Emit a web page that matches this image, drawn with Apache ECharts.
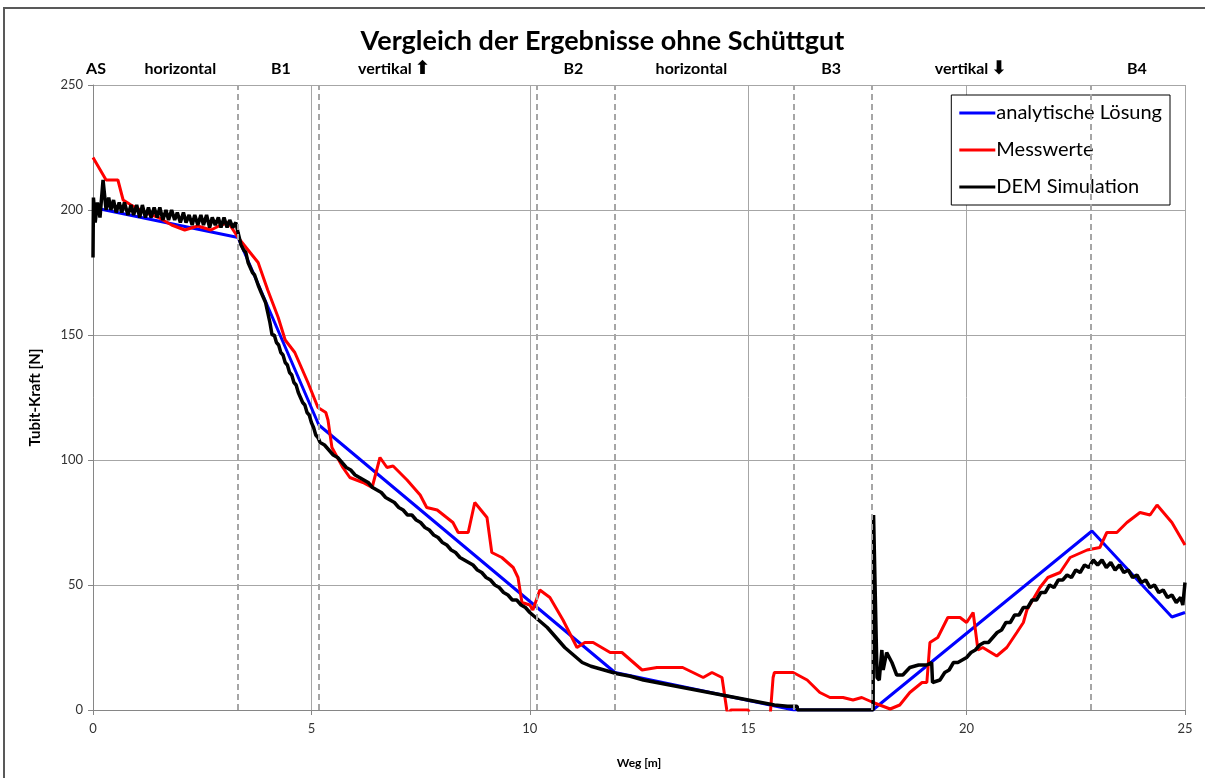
<!DOCTYPE html>
<html>
<head>
<meta charset="utf-8">
<script src="https://cdn.jsdelivr.net/npm/echarts@6/dist/echarts.min.js"></script>
<style>html,body{margin:0;padding:0;background:#fff}#chart{width:1205px;height:778px}</style>
</head>
<body>
<div id="chart"></div>
<script>
// Werte
const analytisch = [[0,201],[3.32,189],[5.17,114],[11.95,15],[16.05,0],[17.85,0],[22.87,71.6],[24.7,37.2],[25,39]];

const messwerte = [[0,221],[0.3,212],[0.57,212],[0.69,204],[0.87,202],[1.2,199],[1.5,197],[1.8,194],[1.95,193],[2.1,192],[2.4,193.6],[2.7,192],[2.93,194],[3.1,195],[3.32,189],[3.55,184],[3.78,179],[4.0,168],[4.24,157],[4.4,148],[4.62,143],[4.92,131],[5.15,121],[5.33,119],[5.38,116],[5.47,105],[5.72,97],[5.88,93],[6.18,91],[6.39,89],[6.57,101],[6.73,97],[6.87,97.6],[7.19,92],[7.49,86],[7.64,81],[7.88,80],[8.24,75],[8.36,71],[8.59,71],[8.74,83],[9.02,77],[9.13,63],[9.36,61],[9.62,57],[9.73,53],[9.82,43],[10.0,42],[10.07,40],[10.23,48],[10.46,45],[10.76,36],[11.08,25],[11.26,27],[11.45,27],[11.84,23],[12.11,23],[12.57,16],[12.91,17],[13.37,17],[13.5,17],[13.97,13],[14.17,15],[14.4,13],[14.51,0],[14.55,-3],[14.6,0],[15.0,0],[15.05,-3],[15.5,-3],[15.57,13],[15.6,15],[16.03,15],[16.35,12],[16.64,7],[16.87,5],[17.17,5],[17.4,4],[17.6,5],[17.86,3],[18.25,0.4],[18.47,2],[18.7,7],[18.98,11],[19.09,11],[19.16,27],[19.34,29],[19.57,37],[19.85,37],[20.0,35],[20.15,39],[20.26,24],[20.37,25],[20.69,21.6],[20.92,25],[21.15,31],[21.3,35],[21.38,40],[21.68,49],[21.86,53],[22.14,55],[22.37,61],[22.76,64],[23.05,65],[23.21,71],[23.44,71],[23.67,75],[23.97,79],[24.2,78],[24.36,82],[24.7,75],[25,66]];

const demSimulation = [[0,181],[0.01,205],[0.05,195],[0.1,203],[0.16,197],[0.23,212],[0.3,200],[0.36,205],[0.41,200],[0.47,204],[0.53,199],[0.6,203],[0.66,199],[0.72,203],[0.8,198],[0.87,202],[0.93,198],[1.0,202],[1.07,197],[1.13,202],[1.2,197],[1.27,201],[1.33,197],[1.4,201],[1.47,197],[1.53,201],[1.6,196],[1.67,200],[1.73,196],[1.8,200],[1.87,196],[1.93,199],[2.0,195],[2.07,199],[2.13,195],[2.2,198],[2.27,194],[2.33,198],[2.4,194],[2.47,198],[2.53,194],[2.6,198],[2.67,193],[2.73,197],[2.8,194],[2.87,197],[2.93,193],[3.0,197],[3.07,193],[3.13,196],[3.2,193],[3.27,195],[3.32,191],
  [3.39,186],[3.45,184],[3.5,183],[3.55,179],[3.6,177],[3.65,175],[3.7,174],[3.78,170],[3.85,167],[3.9,165],[3.95,163],[4.0,159],[4.05,155],[4.1,150],[4.15,150],[4.2,147],[4.25,146],[4.3,143],[4.35,142],[4.4,139],[4.45,138],[4.5,135],[4.55,134],[4.6,131],[4.65,130],[4.7,127],[4.75,125],[4.8,123],[4.85,122],[4.9,119],[4.95,118],[5.0,115],[5.05,113],[5.1,110],[5.15,109],[5.2,107],[5.3,106],[5.4,104],[5.5,102],[5.6,101],[5.7,99],[5.8,97],[5.9,96],[6.0,94],[6.1,93],[6.2,92],[6.3,91],[6.4,89],[6.5,88],
  [6.6,87],[6.7,85],[6.8,84],[6.9,83],[7.0,81],[7.1,80],[7.2,78],[7.3,78],[7.4,76],[7.5,75],[7.6,73],[7.7,72],[7.8,70],[7.9,69],[8.0,67],[8.1,66],[8.2,64],[8.3,63],[8.4,61],[8.5,60],[8.6,59],[8.7,58],[8.8,56],[8.9,55],[9.0,53],[9.1,52],[9.2,50],[9.3,49],[9.4,47],[9.5,46],[9.6,44],[9.7,44],[9.8,42],[9.9,41],[10.0,39],[10.2,36],[10.4,33],[10.6,29],[10.8,25],[11.0,22],[11.2,19],[11.4,17.5],[11.6,16.5],[11.8,15.5],[12.0,14.5],[12.3,13.5],[12.6,12],[12.9,11],[13.2,10],[13.5,9],[13.8,8],[14.1,7],[14.4,6],[14.7,5],[15.0,4],[15.3,3],[15.6,2],[15.9,1.5],[16.12,1.5],[16.13,0],[17.86,0],
  [17.87,78],[17.95,13],[18.0,12],[18.06,24],[18.09,16],[18.17,23],[18.29,19],[18.4,14],[18.54,14],[18.7,17],[18.9,18],[19.09,18],[19.2,19],[19.22,11],[19.39,12],[19.5,15],[19.6,16],[19.7,19],[19.8,19],[19.9,20],[20.0,21],[20.1,23],[20.2,24],[20.3,26],[20.4,27],[20.5,27],[20.6,29],[20.7,31],[20.8,32],[20.9,35],[21.0,35],[21.1,38],[21.2,38],[21.3,41],[21.4,41],[21.5,44],[21.6,44],[21.7,47],[21.8,47],[21.9,50],[22.0,49],[22.1,52],[22.2,52],[22.3,54],[22.4,53],[22.5,56],[22.6,55],[22.7,58],[22.8,57],[22.9,60],[23.0,58],[23.1,60],[23.2,57],[23.3,59],[23.4,56],[23.5,58],[23.6,55],[23.7,56],[23.8,53],[23.9,54],[24.0,51],[24.1,52],[24.2,49],[24.3,50],[24.4,47],[24.5,48],[24.6,45],[24.7,46],[24.8,43],[24.9,45],[24.95,42],[25.0,51]];

// Abschnittsgrenzen (gestrichelt) und Abschnittsnamen
const abschnittsGrenzen = [3.32, 5.17, 10.16, 11.95, 16.05, 17.83, 22.85];
const abschnittsNamen = ['AS', 'horizontal', 'B1', 'vertikal', 'B2', 'horizontal', 'B3', 'vertikal', 'B4'];
const abschnittsPfeile = ['', '', '', '⬆', '', '', '', '⬇', ''];
const abschnittsMitte = [0.07, 2.0, 4.3, 6.9, 11.0, 13.7, 16.9, 20.1, 23.9];

const font = 'Lato, "Open Sans", sans-serif';

const chart = echarts.init(document.getElementById('chart'));

const option = {
  animation: false,
  backgroundColor: '#fff',
  title: {
    text: 'Vergleich der Ergebnisse ohne Schüttgut',
    left: 'center',
    top: 23,
    textStyle: {fontFamily: font, fontSize: 27, fontWeight: 'bold', color: '#000'}
  },
  legend: {
    orient: 'vertical',
    right: 35,
    top: 95,
    backgroundColor: '#fff',
    borderColor: '#000',
    borderWidth: 1,
    padding: [7, 8, 7, 8],
    itemGap: 15,
    icon: 'rect',
    itemWidth: 36,
    itemHeight: 3,
    textStyle: {fontFamily: font, fontSize: 20, color: '#000', padding: [0, 0, 0, -4], lineHeight: 22}
  },
  grid: {left: 93, right: 20, top: 85, bottom: 68},
  xAxis: {
    type: 'value',
    min: 0, max: 25, interval: 5,
    name: 'Weg [m]',
    nameLocation: 'middle',
    nameGap: 47,
    nameTextStyle: {fontFamily: font, fontSize: 12, fontWeight: 'bold', color: '#000'},
    axisLine: {lineStyle: {color: '#868686'}},
    axisTick: {show: true, length: 5, lineStyle: {color: '#868686'}},
    axisLabel: {fontFamily: font, fontSize: 13, color: '#333', margin: 12},
    splitLine: {show: true, lineStyle: {color: '#a6a6a6', width: 1}}
  },
  yAxis: {
    type: 'value',
    min: 0, max: 250, interval: 50,
    name: 'Tubit-Kraft [N]',
    nameLocation: 'middle',
    nameGap: 50,
    nameTextStyle: {fontFamily: font, fontSize: 15, fontWeight: 'bold', color: '#000'},
    axisLine: {show: true, lineStyle: {color: '#868686'}},
    axisTick: {show: true, length: 5, lineStyle: {color: '#868686'}},
    axisLabel: {fontFamily: font, fontSize: 13, color: '#333', margin: 10},
    splitLine: {show: true, lineStyle: {color: '#a6a6a6', width: 1}}
  },
  series: [
    {
      name: 'analytische Lösung',
      type: 'line',
      data: analytisch,
      symbol: 'none',
      lineStyle: {color: '#0000ff', width: 3},
      itemStyle: {color: '#0000ff'},
      markLine: {
        silent: true,
        symbol: 'none',
        label: {show: false},
        lineStyle: {color: '#a6a6a6', type: [6, 4], width: 2},
        data: abschnittsGrenzen.map(v => ({xAxis: v}))
      }
    },
    {
      name: 'Messwerte',
      type: 'line',
      data: messwerte,
      symbol: 'none',
      lineStyle: {color: '#ff0000', width: 3},
      itemStyle: {color: '#ff0000'}
    },
    {
      name: 'DEM Simulation',
      type: 'line',
      data: demSimulation,
      symbol: 'none',
      lineStyle: {color: '#000', width: 3.5},
      itemStyle: {color: '#000'}
    }
  ]
};

chart.setOption(option);

// Rahmen und Abschnittsbeschriftungen oberhalb der Grafik
const labels = abschnittsNamen.map((name, i) => ({
  type: 'text',
  x: chart.convertToPixel({xAxisIndex: 0}, abschnittsMitte[i]),
  y: 69,
  style: {
    text: abschnittsPfeile[i] ? '{t|' + name + '}{a|' + abschnittsPfeile[i] + '}' : '{t|' + name + '}',
    rich: {
      t: {fontFamily: font, fontSize: 16, fontWeight: 'bold', fill: '#000'},
      a: {fontFamily: '"DejaVu Sans"', fontSize: 19, fontWeight: 'bold', fill: '#000', padding: [0, 0, 0, 3]}
    },
    align: 'center',
    verticalAlign: 'middle'
  }
}));

chart.setOption({
  graphic: [
    {type: 'rect', shape: {x: 4, y: 8, width: 1230, height: 800}, style: {fill: 'none', stroke: '#595959', lineWidth: 2}, silent: true},
    ...labels
  ]
});
</script>
</body>
</html>
